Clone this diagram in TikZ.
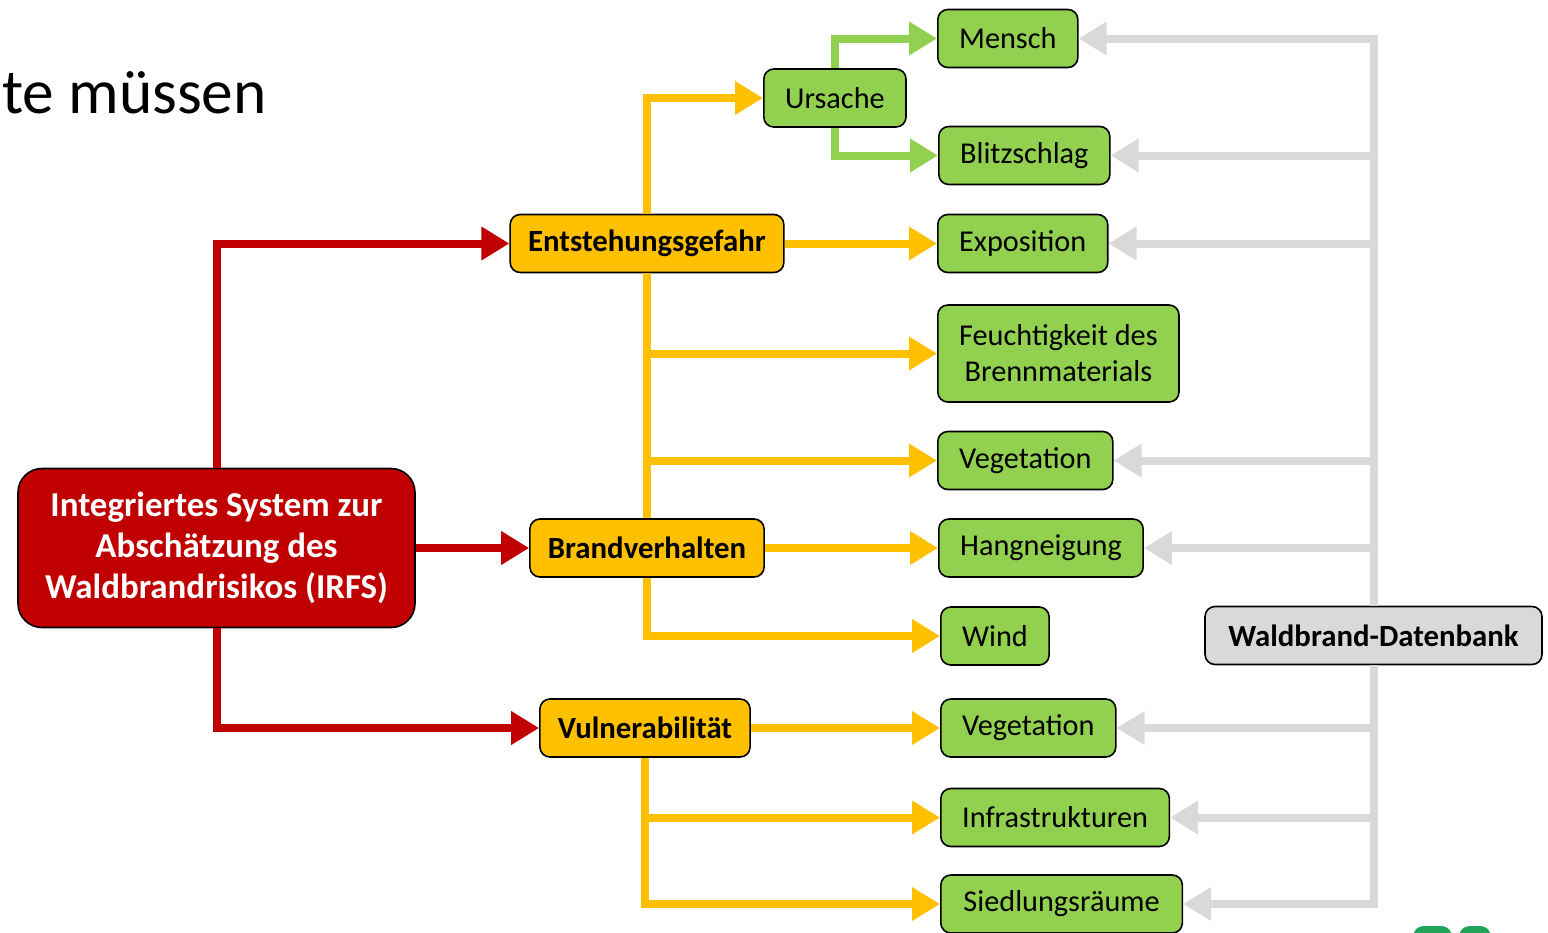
\documentclass[tikz,border=0pt]{standalone}
\usepackage{fontspec}
\setmainfont{Carlito}
\usetikzlibrary{arrows.meta}
\definecolor{irfsred}{HTML}{C00000}
\definecolor{firegold}{HTML}{FFC000}
\definecolor{leafgreen}{HTML}{92D050}
\definecolor{dbgray}{HTML}{D9D9D9}
\definecolor{logogreen}{HTML}{21A35A}
\tikzset{
 box/.style={draw=black, line width=1.2pt, rounded corners=7.5pt, inner xsep=16pt,
  minimum height=43.5pt, align=center, font=\fontsize{22.7}{27}\selectfont},
 leaf/.style={box, fill=leafgreen, anchor=west},
 factor/.style={box, fill=firegold, inner xsep=13.5pt, font=\fontsize{23.1}{27}\selectfont\bfseries},
 link/.style={line width=6pt, -{Triangle[length=21pt,width=24pt]}},
}

\begin{document}
\begin{tikzpicture}[x=0.75pt, y=-0.75pt]
 \clip (0,0) rectangle (1548,932);
 \node [anchor=base east, font=\fontsize{47.5}{50}\selectfont, inner sep=0pt] (title) at (267,113) {te müssen};
 \node [box, fill=irfsred, text=white, rounded corners=18pt, minimum width=297.75pt, minimum height=119.25pt,
  font=\fontsize{26.2}{30.75}\selectfont\bfseries] (irfs) at (216.5,548)
  {Integriertes System zur\\Abschätzung des\\Waldbrandrisikos (IRFS)};
 \node [factor] (entst) at (647,243.5) {Entstehungsgefahr};
 \node [factor] (brand) at (647,548) {Brandverhalten};
 \node [factor] (vuln) at (645,728) {Vulnerabilität};
 \node [leaf] (ursache) at (763,98) {Ursache};
 \node [leaf] (mensch) at (937,38.5) {Mensch};
 \node [leaf] (blitz) at (938,155.5) {Blitzschlag};
 \node [leaf] (expo) at (937,243.5) {Exposition};
 \node [leaf, minimum height=72.75pt] (feucht) at (937,353.5) {Feuchtigkeit des\\Brennmaterials};
 \node [leaf] (veg1) at (937,460.5) {Vegetation};
 \node [leaf] (hang) at (938,548) {Hangneigung};
 \node [leaf] (wind) at (940,636) {Wind};
 \node [leaf] (veg2) at (940,728) {Vegetation};
 \node [leaf] (infra) at (940,817.5) {Infrastrukturen};
 \node [leaf, inner xsep=17pt] (sied) at (940,904) {Siedlungsräume};
 \node [box, fill=dbgray, inner xsep=17.5pt, font=\fontsize{23.1}{27}\selectfont\bfseries] (db) at (1373.5,635.5) {Waldbrand-Datenbank};

 \draw [link, irfsred] (irfs.north) |- (entst.west);
 \draw [link, irfsred] (irfs.east) -- (brand.west);
 \draw [link, irfsred] (irfs.south) |- (vuln.west);

 \draw [line width=6pt, firegold] (entst.south) -- (brand.north);
 \draw [link, firegold] (entst.north) |- (ursache.west);
 \draw [link, firegold] (entst.east) -- (expo.west);
 \draw [link, firegold] (entst.south) |- (feucht.west);
 \draw [link, firegold] (entst.south) |- (veg1.west);
 \draw [link, firegold] (brand.east) -- (hang.west);
 \draw [link, firegold] (brand.south) |- (wind.west);
 \draw [link, firegold] (vuln.east) -- (veg2.west);
 \draw [link, firegold] (vuln.south) |- (infra.west);
 \draw [link, firegold] (vuln.south) |- (sied.west);

 \draw [link, leafgreen] (ursache.north) |- (mensch.west);
 \draw [link, leafgreen] (ursache.south) |- (blitz.west);

 \foreach \leafname in {mensch, blitz, expo, veg1, hang}
  \draw [link, dbgray] (db.north) |- (\leafname.east);
 \foreach \leafname in {veg2, infra, sied}
  \draw [link, dbgray] (db.south) |- (\leafname.east);

 \fill [logogreen, rounded corners=8pt] (1413,926) rectangle (1452,950);
 \fill [logogreen, rounded corners=8pt] (1459,926) rectangle (1491,950);
\end{tikzpicture}
\end{document}
